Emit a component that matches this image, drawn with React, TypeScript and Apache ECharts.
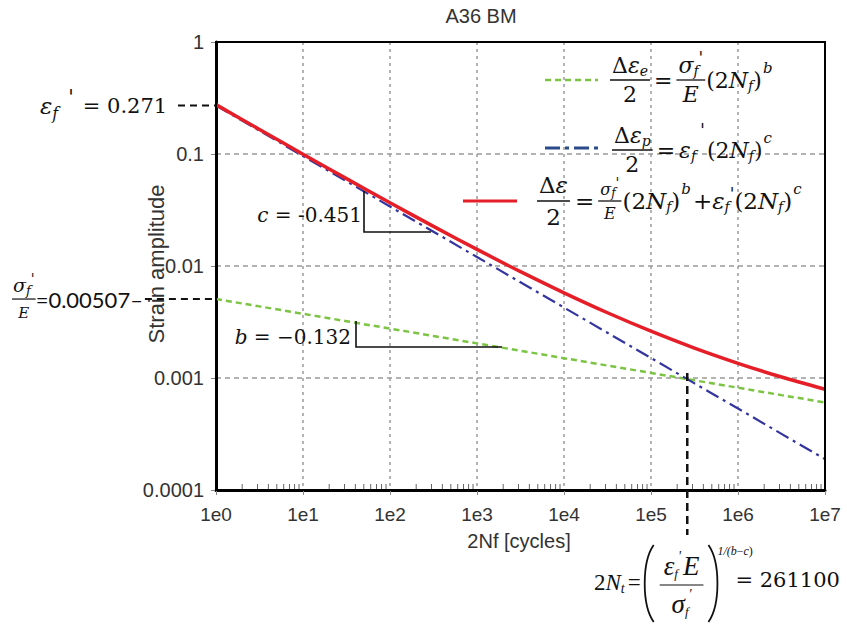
import { useEffect, useRef } from 'react';
import * as echarts from 'echarts';

// Reversals to failure (2Nf), sampled every half decade
const cycles = [1, 3.162, 10, 31.62, 100, 316.2, 1e3, 3162, 1e4, 31620, 1e5, 316200, 1e6, 3162000, 1e7];
// Elastic strain amplitude
const elasticStrain = [0.00507, 0.00436, 0.003742, 0.003214, 0.002762, 0.002371, 0.002038, 0.00175, 0.001504, 0.001291, 0.00111, 0.000953, 0.000819, 0.000703, 0.000605];
// Plastic strain amplitude
const plasticStrain = [0.271, 0.1613, 0.0959, 0.05707, 0.03396, 0.02021, 0.01203, 0.007154, 0.004258, 0.002532, 0.001508, 0.000896, 0.000534, 0.000317, 0.000189];
// Total strain amplitude
const totalStrain = [0.276, 0.1657, 0.0996, 0.0603, 0.03672, 0.02258, 0.01407, 0.0089, 0.005762, 0.003823, 0.002618, 0.001849, 0.001353, 0.00102, 0.000794];

const xTickLabels = ['1e0', '1e1', '1e2', '1e3', '1e4', '1e5', '1e6', '1e7'];
const yTickLabels = ['0.0001', '0.001', '0.01', '0.1', '1'];

// Coffin–Manson–Basquin parameters shown on the chart
const epsilonF = 0.271;
const sigmaFOverE = 0.00507;
const transitionLife = 261100;
const transitionStrain = 0.00111;

const SANS = '"Liberation Sans", Arial, sans-serif';
const SERIF = '"DejaVu Serif", "Liberation Serif", serif';
const TIMES = '"Liberation Serif", "Times New Roman", serif';
const CAL = 'Lato, "Open Sans", sans-serif';

const GREEN = '#7cc444';
const BLUE = '#3535a0';
const RED = '#e61e28';
const INK = '#111';

let measureCtx: CanvasRenderingContext2D | null = null;
function textWidth(s: string, size: number, italic: boolean, family: string) {
  if (!measureCtx) measureCtx = document.createElement('canvas').getContext('2d');
  measureCtx!.font = `${italic ? 'italic ' : ''}${size}px ${family}`;
  return measureCtx!.measureText(s).width;
}

type Run = { s: string; size?: number; it?: boolean; dy?: number; dx?: number; fam?: string };
type Frac = { num: Item[]; den: Item[]; off?: number; pad?: number; lw?: number; dx?: number; size?: number };
type Item = Run | Frac;

function txt(x: number, y: number, s: string, size: number, family: string, o: any = {}) {
  const align = o.align ?? 'left';
  return {
    type: 'text',
    x,
    y,
    rotation: o.rotation ?? 0,
    silent: true,
    z: 100,
    style: {
      text: s,
      fontSize: size,
      fontFamily: family,
      fontStyle: o.italic ? 'italic' : 'normal',
      fontWeight: 'normal',
      fill: o.color ?? INK,
      align,
      verticalAlign: 'middle',
      textAlign: align,
      textVerticalAlign: 'middle',
    },
  };
}

function seg(x1: number, y1: number, x2: number, y2: number, color: string, width: number, dash?: number[]) {
  return {
    type: 'line',
    silent: true,
    z: 100,
    shape: { x1, y1, x2, y2 },
    style: { stroke: color, lineWidth: width, lineDash: dash ?? null },
  };
}

// Lays out a row of math tokens from x0 along centre line y; returns its width
function layout(items: Item[], x0: number, y: number, base: number, color: string, els: any[], fam = SERIF, dry = false): number {
  let x = x0;
  for (const it of items) {
    if ('num' in it) {
      x += it.dx ?? 0;
      const b = it.size ?? base;
      const nw = layout(it.num, 0, 0, b, color, [], fam, true);
      const dw = layout(it.den, 0, 0, b, color, [], fam, true);
      const pad = it.pad ?? 2;
      const w = Math.max(nw, dw) + pad * 2;
      const off = it.off ?? b * 0.68;
      if (!dry) {
        layout(it.num, x + (w - nw) / 2, y - off, b, color, els, fam);
        layout(it.den, x + (w - dw) / 2, y + off, b, color, els, fam);
        els.push(seg(x, y, x + w, y, color, it.lw ?? 1.3));
      }
      x += w;
    } else {
      x += it.dx ?? 0;
      const size = it.size ?? base;
      const f = it.fam ?? fam;
      const w = textWidth(it.s, size, !!it.it, f);
      if (!dry) els.push(txt(x, y + (it.dy ?? 0), it.s, size, f, { italic: it.it, color }));
      x += w;
    }
  }
  return x - x0;
}

const sub = (s: string, size = 14, dy = 6, dx = 0): Run => ({ s, it: true, size, dy, dx });
const sup = (s: string, size = 15, dy = -12, dx = 1): Run => ({ s, it: true, size, dy, dx });
const prime = (size = 17, dy = -8, dx = 0): Run => ({ s: "'", it: true, size, dy, dx });

const legendElastic: Item[] = [
  { num: [{ s: 'Δ' }, { s: 'ε', it: true }, sub('e')], den: [{ s: '2' }] },
  { s: '=', dx: 4 },
  { num: [{ s: 'σ', it: true }, sub('f'), prime()], den: [{ s: 'E', it: true }], dx: 4 },
  { s: '(2', dx: 1 }, { s: 'N', it: true }, sub('f'), { s: ')' }, sup('b'),
];
const legendPlastic: Item[] = [
  { num: [{ s: 'Δ' }, { s: 'ε', it: true }, sub('p')], den: [{ s: '2' }] },
  { s: '=', dx: 4 },
  { s: 'ε', it: true, dx: 4 }, sub('f'), prime(18, -20, 4),
  { s: '(2', dx: 2 }, { s: 'N', it: true }, sub('f'), { s: ')' }, sup('c'),
];
const legendTotal: Item[] = [
  { num: [{ s: 'Δ' }, { s: 'ε', it: true }], den: [{ s: '2' }] },
  { s: '=', dx: 5 },
  { num: [{ s: 'σ', it: true }, sub('f', 12, 4), prime(14, -6)], den: [{ s: 'E', it: true }], size: 16, off: 12, dx: 4 },
  { s: '(2', dx: 1 }, { s: 'N', it: true }, sub('f'), { s: ')' }, sup('b'),
  { s: '+', dx: 2 }, { s: 'ε', it: true }, sub('f'), prime(),
  { s: '(2' }, { s: 'N', it: true }, sub('f'), { s: ')' }, sup('c'),
];

function buildGraphics(px: (x: number, y: number) => number[]) {
  const els: any[] = [];
  const [gx0, gyTop] = px(1, 1);
  const [gx1, gyBot] = px(1e7, 1e-4);

  // plot frame drawn over the grid lines
  els.push({ type: 'rect', silent: true, z: 90, shape: { x: gx0, y: gyTop, width: gx1 - gx0, height: gyBot - gyTop }, style: { fill: null, stroke: '#000', lineWidth: 2 } });

  els.push(txt(481, 16, 'A36 BM', 20, SANS, { align: 'center', color: '#333' }));
  els.push(txt(156, 264, 'Strain amplitude', 22, SANS, { align: 'center', rotation: Math.PI / 2, color: '#333' }));
  els.push(txt(519, 541, '2Nf [cycles]', 20, SANS, { align: 'center', color: '#333' }));

  // minor ticks along the bottom axis
  for (let d = 0; d < 7; d++) {
    for (let k = 2; k <= 9; k++) {
      const [x] = px(k * Math.pow(10, d), 1e-4);
      els.push(seg(x, gyBot - 1, x, gyBot - 6, '#666', 1));
    }
  }

  // ε'f guide
  const [, yEps] = px(1, epsilonF);
  els.push(seg(178, yEps, gx0, yEps, INK, 2, [7, 5]));
  layout([{ s: 'ε', it: true, size: 23 }, sub('f', 16, 8), prime(20, -9, 10), { s: '= 0.271', dx: 9 }], 40, yEps, 21, INK, els);

  // σ'f/E guide
  const [, ySig] = px(1, sigmaFOverE);
  let x = 12;
  x += layout([{ num: [{ s: 'σ', it: true }, sub('f', 13, 5), prime(14, -6)], den: [{ s: 'E', it: true, size: 15 }], size: 19, off: 14, pad: 1, lw: 1.2 }], x, ySig, 19, INK, els);
  x += layout([{ s: '=0.00507–' }], x, ySig, 22, INK, els, CAL);
  els.push(seg(x + 2, ySig, gx0, ySig, INK, 2, [7, 5]));

  // slope c
  const cItems: Item[] = [{ s: 'c', it: true }, { s: ' = -0.451' }];
  const cw = layout(cItems, 0, 0, 20, INK, [], SERIF, true);
  layout(cItems, 362 - cw, 215, 20, INK, els);
  els.push({ type: 'polyline', silent: true, z: 100, shape: { points: [[364, 191], [364, 232], [431, 232]] }, style: { stroke: INK, lineWidth: 1.6, fill: null } });

  // slope b
  const bItems: Item[] = [{ s: 'b', it: true }, { s: ' = −0.132' }];
  const bw = layout(bItems, 0, 0, 20, INK, [], SERIF, true);
  layout(bItems, 351 - bw, 337, 20, INK, els);
  els.push({ type: 'polyline', silent: true, z: 100, shape: { points: [[356, 321], [356, 347], [502, 347]] }, style: { stroke: INK, lineWidth: 1.6, fill: null } });

  // transition life
  const [xt, yt] = px(transitionLife, transitionStrain);
  els.push(seg(xt, yt, xt, 535, INK, 2.5, [8, 5]));

  // transition life formula
  const fy = 582;
  let fx = 594;
  fx += layout([{ s: '2' }, { s: 'N', it: true }, sub('t', 14, 6), { s: '=', dx: 3 }], fx, fy, 23, INK, els, TIMES);
  fx += 2;
  els.push({ type: 'bezierCurve', silent: true, z: 100, shape: { x1: fx + 11, y1: 545, x2: fx + 11, y2: 622, cpx1: fx - 1, cpy1: 562, cpx2: fx - 1, cpy2: 605 }, style: { stroke: INK, lineWidth: 1.8, fill: null } });
  fx += 17;
  fx += layout([{
    num: [{ s: 'ε', it: true }, sub('f', 13, 7), { s: "'", it: true, size: 14, dy: -10 }, { s: 'E', it: true, dx: 2 }],
    den: [{ s: 'σ', it: true }, sub('f', 13, 7), { s: "'", it: true, size: 14, dy: -10 }],
    off: 19, pad: 4, lw: 1.2,
  }], fx, fy + 3, 27, INK, els, TIMES);
  fx += 5;
  els.push({ type: 'bezierCurve', silent: true, z: 100, shape: { x1: fx, y1: 545, x2: fx, y2: 622, cpx1: fx + 12, cpy1: 562, cpx2: fx + 12, cpy2: 605 }, style: { stroke: INK, lineWidth: 1.8, fill: null } });
  layout([{ s: '1/(', it: true }, { s: 'b', it: true }, { s: '−' }, { s: 'c', it: true }, { s: ')' }], fx + 9, 551, 12, INK, els, TIMES);
  layout([{ s: '= 261100' }], fx + 27, fy - 2, 21, INK, els);

  // legend
  els.push(seg(545, 80, 598, 80, GREEN, 2.5, [6, 4]));
  layout(legendElastic, 610, 80, 22, INK, els);
  els.push(seg(545, 148, 598, 148, '#2a4a8c', 3, [15, 5, 4, 5]));
  layout(legendPlastic, 612, 150, 22, INK, els);
  els.push(seg(463, 201, 517, 201, RED, 3));
  layout(legendTotal, 537, 201, 23, INK, els);

  return els;
}

const axisText = { color: '#333', fontFamily: SANS };

const option: any = {
  animation: false,
  backgroundColor: '#fff',
  grid: { left: 216, right: 22, top: 42, bottom: 139, show: false, outerBoundsMode: 'none', containLabel: false },
  xAxis: {
    type: 'log',
    logBase: 10,
    min: 1,
    max: 1e7,
    interval: 1,
    axisLine: { show: true, lineStyle: { color: '#000', width: 3 } },
    axisTick: { show: true, length: 5, lineStyle: { color: '#888', width: 1 } },
    axisLabel: { ...axisText, fontSize: 19, margin: 15, formatter: (v: number) => xTickLabels[Math.round(Math.log10(v))] },
    splitLine: { show: true, lineStyle: { color: '#9a9a9a', type: [3, 4], width: 1.5 } },
  },
  yAxis: {
    type: 'log',
    logBase: 10,
    min: 1e-4,
    max: 1,
    interval: 1,
    axisLine: { show: true, lineStyle: { color: '#000', width: 3 } },
    axisTick: { show: true, length: 5, lineStyle: { color: '#888', width: 1 } },
    axisLabel: { ...axisText, fontSize: 20, margin: 12, formatter: (v: number) => yTickLabels[Math.round(Math.log10(v)) + 4] },
    splitLine: { show: true, lineStyle: { color: '#9a9a9a', type: [5, 4], width: 1.5 } },
  },
  series: [
    {
      name: 'elastic',
      type: 'line',
      symbol: 'none',
      data: cycles.map((c, i) => [c, elasticStrain[i]]),
      lineStyle: { color: GREEN, width: 2.5, type: [6, 4] },
      z: 3,
    },
    {
      name: 'plastic',
      type: 'line',
      symbol: 'none',
      data: cycles.map((c, i) => [c, plasticStrain[i]]),
      lineStyle: { color: BLUE, width: 2.2, type: [14, 5, 3, 5] },
      z: 4,
    },
    {
      name: 'total',
      type: 'line',
      symbol: 'none',
      smooth: 0.3,
      data: cycles.map((c, i) => [c, totalStrain[i]]),
      lineStyle: { color: RED, width: 3.5 },
      z: 5,
    },
  ],
};

export default function App() {
  const ref = useRef<HTMLDivElement>(null);
  useEffect(() => {
    document.body.style.margin = '0';
    const chart = echarts.init(ref.current!, null, { renderer: 'svg' });
    chart.setOption(option);
    const px = (x: number, y: number) => chart.convertToPixel({ gridIndex: 0 }, [x, y]) as number[];
    chart.setOption({ graphic: { elements: buildGraphics(px) } });
    return () => chart.dispose();
  }, []);
  return <div ref={ref} style={{ width: 847, height: 629, position: 'absolute', left: 0, top: 0, background: '#fff' }} />;
}
